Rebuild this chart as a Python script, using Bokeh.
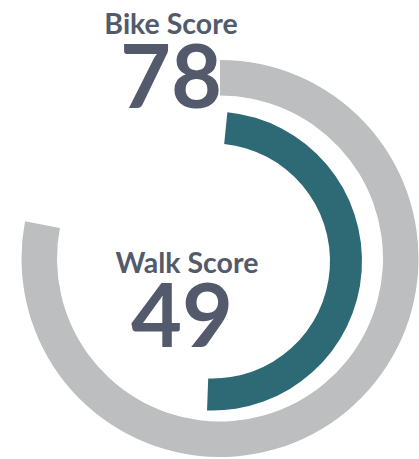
from bokeh.plotting import figure
from bokeh.models import Range1d, ColumnDataSource
from bokeh.core.properties import value
from bokeh.embed import file_html
from bokeh.resources import INLINE
import math

# ---- data ----
labels = ["Bike Score", "Walk Score"]
scores = [78, 49]
max_score = 100
colors = ["#bdbec0", "#2e6a76"]

# ---- layout (pixel-like data units) ----
W, H = 419, 459
ring_cx = [219.5, 212.0]
ring_cy = [H - 258.0, H - 260.5]
ring_inner = [163.0, 117.5]
ring_outer = [198.5, 149.5]
ring_offset_deg = [0.0, 5.7]   # clockwise offset from 12 o'clock

start_angles, end_angles = [], []
for s, off in zip(scores, ring_offset_deg):
    sweep = s / max_score * 2 * math.pi
    top = math.pi / 2 - math.radians(off)
    end_angles.append(top)
    start_angles.append(top - sweep)

src = ColumnDataSource(dict(x=ring_cx, y=ring_cy, ir=ring_inner, orr=ring_outer,
                            sa=start_angles, ea=end_angles, c=colors))

p = figure(width=W, height=H, output_backend="svg", toolbar_location=None,
           x_range=Range1d(0, W), y_range=Range1d(0, H), min_border=0,
           background_fill_color="white", border_fill_color="white")
p.axis.visible = False
p.grid.visible = False
p.outline_line_color = None

p.annular_wedge(x="x", y="y", inner_radius="ir", outer_radius="orr",
                start_angle="sa", end_angle="ea", color="c", line_color=None,
                source=src)

text_color = "#535a6b"
label_x = [170.5, 186.5]
label_y = [H - 22.5, H - 261.0]
num_x = [170.5, 181.5]
num_y = [H - 75.0, H - 314.5]

p.text(x=label_x, y=label_y, text=labels, text_font=value("Lato"),
       text_font_style="bold", text_font_size="28.5px", text_align="center",
       text_baseline="alphabetic", text_color=text_color)
p.text(x=num_x, y=num_y, text=[str(s) for s in scores], text_font=value("Lato"),
       text_font_style="bold", text_font_size="88px", text_align="center",
       text_baseline="alphabetic", text_color=text_color)

open("out.html", "w").write(file_html(p, INLINE))
